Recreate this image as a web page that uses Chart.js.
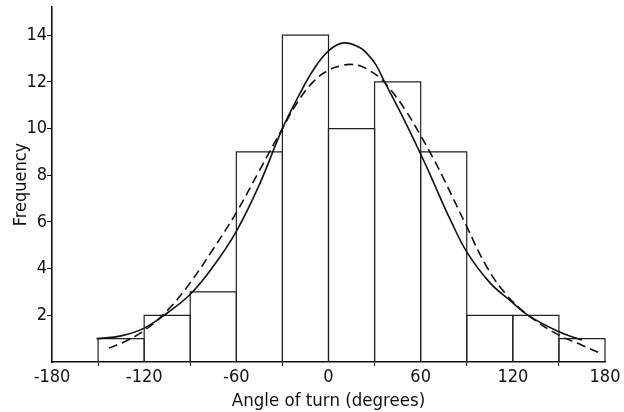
<!DOCTYPE html>
<html>
<head>
<meta charset="utf-8">
<script src="https://cdn.jsdelivr.net/npm/chart.js@4"></script>
<style>
  html, body { margin: 0; padding: 0; background: #fff; }
  #wrap { width: 624px; height: 412px; }
</style>
</head>
<body>
<div id="wrap"><canvas id="chart" width="624" height="412"></canvas></div>
<script>
// histogram bins (centres, 30 degree wide)
const binCenters = [-165, -135, -105, -75, -45, -15, 15, 45, 75, 105, 135, 165];
const frequencies = [0, 1, 2, 3, 9, 14, 10, 12, 9, 2, 2, 1];

// fitted curve, solid
const solidX = [-151, -135, -120, -105, -90, -75, -60, -45, -30, -19, -10, 0, 10, 20, 25, 31, 36.5, 46, 55, 60, 65, 72, 80, 90, 105, 118, 130, 150, 165];
const solidY = [1.0, 1.12, 1.45, 2.1, 2.9, 4.1, 5.6, 7.6, 10.0, 11.45, 12.5, 13.33, 13.67, 13.48, 13.22, 12.72, 12.0, 10.8, 9.6, 8.9, 8.2, 7.15, 6.0, 4.72, 3.4, 2.65, 2.0, 1.3, 0.94];

// fitted curve, dashed
const dashX = [-143, -135, -120, -105, -90, -75, -60, -45, -30, -20, -10, 0, 10, 14, 20, 25, 33, 40, 50, 60, 68, 75, 90, 103, 116, 130, 150, 165, 176];
const dashY = [0.6, 0.8, 1.35, 2.2, 3.4, 4.85, 6.4, 8.2, 10.0, 11.15, 12.0, 12.5, 12.72, 12.75, 12.7, 12.55, 12.2, 11.7, 10.8, 9.7, 8.75, 7.85, 5.8, 4.08, 2.87, 2.0, 1.15, 0.72, 0.4];

const xTicks = [-180, -120, -60, 0, 60, 120, 180];
const yTicks = [2, 4, 6, 8, 10, 12, 14];

const FONT = '"DejaVu Sans Condensed", "DejaVu Sans", sans-serif';
const INK = '#111';

const toPoints = (xs, ys) => xs.map((x, i) => ({ x, y: ys[i] }));

// outline each histogram bar on its true edges so neighbouring bars share one line
const barOutline = {
  id: 'barOutline',
  beforeDatasetsDraw(chart) {
    const meta = chart.getDatasetMeta(2);
    const ctx = chart.ctx;
    ctx.save();
    ctx.strokeStyle = '#222';
    ctx.lineWidth = 1.2;
    meta.data.forEach((bar) => {
      const p = bar.getProps(['x', 'y', 'base', 'width'], true);
      if (Math.abs(p.base - p.y) < 0.5) return;
      const l = p.x - p.width / 2;
      const r = p.x + p.width / 2;
      ctx.beginPath();
      ctx.moveTo(l, p.base);
      ctx.lineTo(l, p.y);
      ctx.lineTo(r, p.y);
      ctx.lineTo(r, p.base);
      ctx.stroke();
    });
    ctx.restore();
  }
};

new Chart(document.getElementById('chart'), {
  type: 'bar',
  data: {
    datasets: [
      {
        type: 'line',
        data: toPoints(solidX, solidY),
        borderColor: INK,
        borderWidth: 1.6,
        pointRadius: 0,
        tension: 0.4,
        fill: false,
        order: 1,
      },
      {
        type: 'line',
        data: toPoints(dashX, dashY),
        borderColor: INK,
        borderWidth: 1.6,
        borderDash: [9, 5],
        pointRadius: 0,
        tension: 0.4,
        fill: false,
        order: 2,
      },
      {
        type: 'bar',
        data: toPoints(binCenters, frequencies),
        backgroundColor: 'rgba(255,255,255,0)',
        borderWidth: 0,
        barPercentage: 1,
        categoryPercentage: 1,
        inflateAmount: 0,
        grouped: false,
        order: 3,
      },
    ]
  },
  plugins: [barOutline],
  options: {
    responsive: false,
    animation: false,
    layout: { padding: { top: 4, right: 19, left: 0, bottom: 0 } },
    plugins: {
      legend: { display: false },
      tooltip: { enabled: false },
    },
    scales: {
      x: {
        type: 'linear',
        min: -180,
        max: 180,
        offset: false,
        afterBuildTicks: (s) => { s.ticks = xTicks.map((v) => ({ value: v })); },
        afterFit: (s) => { s.height = 50; },
        ticks: { color: INK, font: { family: FONT, size: 18 }, padding: 1, maxRotation: 0 },
        grid: { drawOnChartArea: false, tickLength: 4, color: INK },
        border: { display: true, color: INK, width: 1.6 },
        title: {
          display: true,
          text: 'Angle of turn (degrees)',
          color: INK,
          font: { family: FONT, size: 18.5 },
          padding: { top: 0, bottom: 0 },
        },
      },
      y: {
        min: 0,
        max: 15.2,
        afterBuildTicks: (s) => { s.ticks = yTicks.map((v) => ({ value: v })); },
        afterFit: (s) => { s.width = 52; },
        ticks: { color: INK, font: { family: FONT, size: 18, lineHeight: 0.8 }, padding: 0 },
        grid: { drawOnChartArea: false, tickLength: 5, color: INK },
        border: { display: true, color: INK, width: 1.6 },
        title: {
          display: true,
          text: 'Frequency',
          color: INK,
          font: { family: FONT, size: 18 },
          padding: { top: 11, bottom: 0 },
        },
      },
    },
  },
});
</script>
</body>
</html>
